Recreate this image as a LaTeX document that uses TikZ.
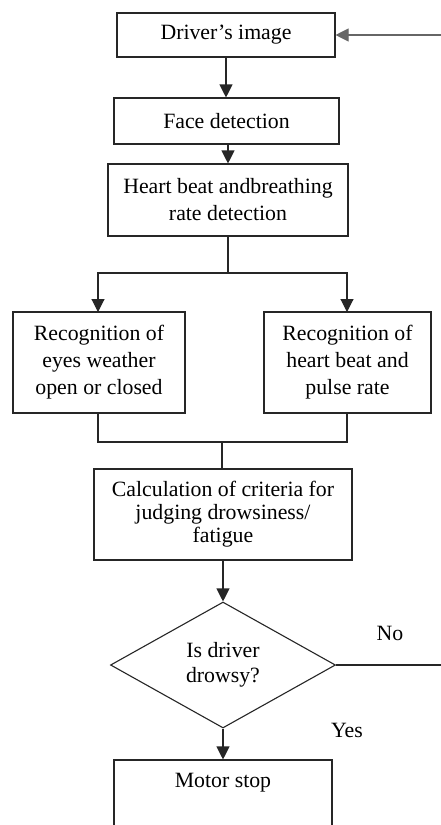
\documentclass[tikz,border=0pt]{standalone}
\usepackage{fontspec}
\setmainfont{Liberation Serif}
\usetikzlibrary{arrows.meta,shapes.geometric}
\begin{document}
\begin{tikzpicture}[x=1pt,y=1pt, line width=1.1pt,
  box/.style={draw=black!85, rectangle, inner sep=0pt, align=center,
    font=\fontsize{21.8}{27}\selectfont},
  txt/.style={inner sep=0pt, font=\fontsize{21.8}{27}\selectfont},
  con/.style={draw=black!85},
  arr/.style={draw=black!85, -{Triangle[width=13pt,length=13pt]}}]
\clip (0,0) rectangle (441,-825);
\fill[white] (0,0) rectangle (441,-825);
\node[box, minimum width=218pt, minimum height=44pt] (driver) at (226,-35) {Driver’s image};
\node[box, minimum width=225pt, minimum height=46pt] (face) at (226.5,-121) {Face detection};
\node[box, minimum width=240pt, minimum height=72pt] (heart) at (228,-200) {Heart beat andbreathing\\rate detection};
\node[box, minimum width=172pt, minimum height=101pt] (left) at (99,-362.5) {Recognition of\\eyes weather\\open or closed};
\node[box, minimum width=167pt, minimum height=101pt] (right) at (347.5,-362.5) {Recognition of\\heart beat and\\pulse rate};
\node[box, minimum width=258pt, minimum height=91pt, font=\fontsize{21.8}{23}\selectfont] (calc) at (223,-514.5) {Calculation of criteria for\\judging drowsiness/\\fatigue};
\node[draw=black!85, diamond, inner sep=0pt, minimum width=225pt, minimum height=126pt, align=center,
  font=\fontsize{21.8}{25}\selectfont] (dia) at (223,-665) {Is driver\\drowsy?};
\node[box, minimum width=218pt, minimum height=100pt] (motor) at (223,-810) {};
\node[txt] (motortxt) at (223,-783) {Motor stop};
\node[txt] (no) at (390,-633) {No};
\node[txt] (yes) at (347,-730) {Yes};
% connectors
\coordinate (in) at (441,-35);
\draw[arr, draw=black!60] (in) -- (driver.east);
\draw[arr] (driver.south) -- (driver.south |- face.north);
\draw[arr] (face.south -| heart.north) -- (heart.north);
\coordinate (j1) at (228,-273);
\draw[con] (heart.south) -- (j1);
\draw[arr] (j1) -| (98,-312);
\draw[arr] (j1) -| (347,-312);
\coordinate (j2) at (222,-442);
\draw[con] (98,-413) |- (j2) -| (347,-413);
\draw[con] (j2) -- (j2 |- calc.north);
\draw[arr] (calc.south) -- (dia.north);
\draw[arr] (dia.south) -- (motor.north);
\coordinate (noend) at (441,-665);
\draw[con] (dia.east) -- (noend);
\end{tikzpicture}
\end{document}
